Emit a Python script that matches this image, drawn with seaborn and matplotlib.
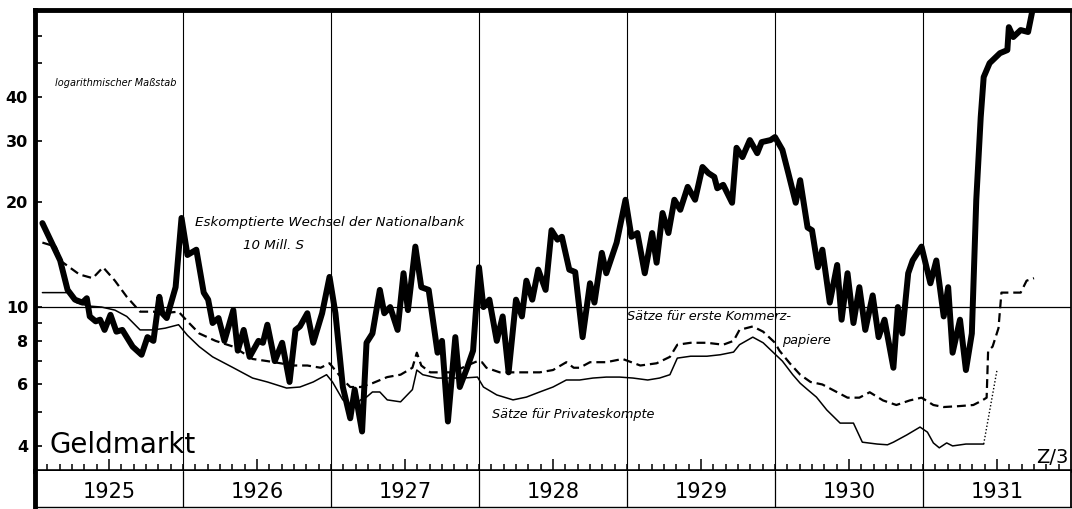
import numpy as np
import pandas as pd
import matplotlib
matplotlib.use("Agg")
import matplotlib.pyplot as plt
from matplotlib.ticker import NullFormatter
import seaborn as sns

# Eskomptierte Wechsel der Nationalbank (10 Mill. S)
esk_x = [1925.05, 1925.17, 1925.22, 1925.27, 1925.32, 1925.35, 1925.37, 1925.41, 1925.44, 1925.47, 1925.51,
         1925.55, 1925.59, 1925.66, 1925.72, 1925.76, 1925.80, 1925.84, 1925.86, 1925.89, 1925.95, 1925.99,
         1926.03, 1926.09, 1926.14, 1926.17, 1926.20, 1926.24, 1926.28, 1926.34, 1926.37, 1926.41, 1926.45,
         1926.51, 1926.54, 1926.57, 1926.62, 1926.67, 1926.72, 1926.76, 1926.79, 1926.84, 1926.88, 1926.94, 1926.99,
         1927.03, 1927.08, 1927.13, 1927.16, 1927.21, 1927.24, 1927.28, 1927.33, 1927.36, 1927.40, 1927.45,
         1927.49, 1927.52, 1927.57, 1927.61, 1927.66, 1927.72, 1927.75, 1927.79, 1927.84, 1927.87, 1927.92, 1927.96,
         1928.00, 1928.03, 1928.07, 1928.12, 1928.16, 1928.20, 1928.25, 1928.29, 1928.32, 1928.36, 1928.40, 1928.45,
         1928.49, 1928.53, 1928.56, 1928.61, 1928.65, 1928.70, 1928.75, 1928.78, 1928.83, 1928.86, 1928.93, 1928.99,
         1929.03, 1929.07, 1929.12, 1929.17, 1929.20, 1929.24, 1929.28, 1929.32, 1929.36, 1929.41, 1929.46,
         1929.51, 1929.55, 1929.59, 1929.61, 1929.65, 1929.71, 1929.74, 1929.78, 1929.83, 1929.88, 1929.91, 1929.97,
         1930.00, 1930.05, 1930.09, 1930.14, 1930.17, 1930.22, 1930.25, 1930.29, 1930.32, 1930.37, 1930.42,
         1930.45, 1930.49, 1930.53, 1930.57, 1930.61, 1930.66, 1930.70, 1930.74, 1930.80, 1930.83, 1930.86,
         1930.90, 1930.93, 1930.99,
         1931.05, 1931.09, 1931.14, 1931.17, 1931.20, 1931.25, 1931.29, 1931.33, 1931.36, 1931.39, 1931.41,
         1931.45, 1931.52, 1931.57, 1931.58, 1931.61, 1931.66, 1931.71, 1931.74, 1931.76]
esk_y = [17.4, 13.6, 11.2, 10.5, 10.3, 10.6, 9.4, 9.1, 9.2, 8.6, 9.5,
         8.5, 8.6, 7.7, 7.3, 8.2, 8.0, 10.7, 9.6, 9.3, 11.4, 18.0,
         14.1, 14.6, 11.0, 10.5, 9.0, 9.3, 8.0, 9.8, 7.5, 8.6, 7.2,
         8.0, 7.9, 8.9, 7.0, 7.9, 6.1, 8.6, 8.8, 9.6, 7.9, 9.6, 12.2,
         9.6, 5.9, 4.8, 5.8, 4.4, 7.9, 8.4, 11.2, 9.6, 10.0, 8.6,
         12.5, 9.8, 14.9, 11.4, 11.2, 7.4, 8.0, 4.7, 8.2, 5.9, 6.7, 7.5,
         13.0, 10.0, 10.5, 8.0, 9.4, 6.5, 10.5, 9.4, 11.9, 10.5, 12.8, 11.2,
         16.6, 15.6, 15.9, 12.8, 12.6, 8.2, 11.7, 10.3, 14.3, 12.5, 15.3, 20.3,
         15.9, 16.3, 12.5, 16.3, 13.4, 18.6, 16.3, 20.3, 19.0, 22.1, 20.3,
         25.2, 24.2, 23.6, 21.9, 22.4, 19.9, 28.6, 26.9, 30.1, 27.6, 29.7, 30.1,
         30.7, 28.2, 24.2, 19.9, 23.1, 16.9, 16.6, 13.0, 14.6, 10.3, 13.2,
         9.2, 12.5, 9.0, 11.4, 8.6, 10.8, 8.2, 9.2, 6.7, 10.0, 8.4,
         12.5, 13.6, 14.9,
         11.7, 13.6, 9.4, 11.4, 7.4, 9.2, 6.6, 8.4, 20.3, 35.0, 45.6,
         50.0, 53.4, 54.5, 63.4, 59.4, 62.2, 61.4, 71.0, 73.3]

# Saetze fuer erste Kommerzpapiere (dashed)
komm_x = [1925.05, 1925.14, 1925.18, 1925.30, 1925.39, 1925.46, 1925.54, 1925.62, 1925.71, 1925.80, 1925.86, 1925.97,
          1926.03, 1926.11, 1926.22, 1926.34, 1926.47, 1926.57, 1926.66, 1926.74, 1926.84, 1926.93, 1926.99,
          1927.08, 1927.13, 1927.20, 1927.28, 1927.38, 1927.47, 1927.55, 1927.58, 1927.61, 1927.67, 1927.74,
          1927.82, 1927.92, 1927.99,
          1928.02, 1928.05, 1928.14, 1928.23, 1928.32, 1928.41, 1928.50, 1928.59, 1928.64, 1928.68, 1928.75,
          1928.86, 1928.97,
          1929.09, 1929.20, 1929.29, 1929.34, 1929.43, 1929.54, 1929.65, 1929.72, 1929.76, 1929.85, 1929.92,
          1930.00, 1930.03, 1930.10, 1930.17, 1930.24, 1930.32, 1930.42, 1930.49, 1930.57, 1930.64, 1930.73,
          1930.82, 1930.91, 1930.99,
          1931.07, 1931.14, 1931.24, 1931.34, 1931.40, 1931.43, 1931.44, 1931.47, 1931.51, 1931.53, 1931.66,
          1931.70, 1931.75]
komm_y = [15.3, 14.9, 13.5, 12.4, 12.1, 13.0, 11.9, 10.7, 9.7, 9.7, 9.6, 9.7,
          9.1, 8.4, 8.0, 7.7, 7.1, 7.0, 6.9, 6.8, 6.8, 6.7, 6.9,
          6.2, 5.9, 5.9, 6.05, 6.3, 6.4, 6.7, 7.4, 6.8, 6.5, 6.5,
          6.5, 6.8, 7.0,
          6.95, 6.7, 6.5, 6.5, 6.5, 6.5, 6.6, 6.95, 6.7, 6.7, 6.95,
          6.95, 7.1,
          6.8, 6.9, 7.2, 7.8, 7.9, 7.9, 7.8, 8.0, 8.6, 8.8, 8.5,
          7.9, 7.5, 6.9, 6.4, 6.1, 6.0, 5.7, 5.5, 5.5, 5.7, 5.4,
          5.24, 5.4, 5.5,
          5.24, 5.17, 5.2, 5.24, 5.4, 5.5, 7.5, 7.7, 8.7, 11.0, 11.0,
          11.9, 12.1]

# Saetze fuer Privateskompte (thin solid), last stretch dotted
priv_x = [1925.05, 1925.22, 1925.28, 1925.36, 1925.45, 1925.54, 1925.62, 1925.71, 1925.80, 1925.88, 1925.97,
          1926.03, 1926.11, 1926.20, 1926.34, 1926.47, 1926.57, 1926.70, 1926.79, 1926.88, 1926.97,
          1927.01, 1927.08, 1927.15, 1927.20, 1927.24, 1927.28, 1927.33, 1927.38, 1927.47, 1927.55, 1927.58,
          1927.62, 1927.72, 1927.80, 1927.89, 1927.99,
          1928.03, 1928.12, 1928.23, 1928.32, 1928.41, 1928.50, 1928.59, 1928.68, 1928.77, 1928.86, 1928.95,
          1929.04, 1929.14, 1929.22, 1929.29, 1929.34, 1929.43, 1929.54, 1929.63, 1929.72, 1929.76, 1929.85,
          1929.92, 1929.99,
          1930.05, 1930.12, 1930.17, 1930.22, 1930.28, 1930.35, 1930.44, 1930.53, 1930.59, 1930.69, 1930.76,
          1930.80, 1930.89, 1930.98,
          1931.03, 1931.07, 1931.11, 1931.16, 1931.20, 1931.29, 1931.41]
priv_y = [11.0, 11.0, 10.3, 10.07, 10.0, 9.8, 9.4, 8.6, 8.6, 8.7, 8.9,
          8.3, 7.7, 7.2, 6.7, 6.26, 6.1, 5.86, 5.9, 6.1, 6.4,
          6.1, 5.42, 5.17, 5.42, 5.52, 5.71, 5.71, 5.42, 5.35, 5.8, 6.6,
          6.4, 6.26, 6.26, 6.26, 6.3,
          5.9, 5.6, 5.42, 5.52, 5.71, 5.9, 6.18, 6.18, 6.26, 6.3, 6.3,
          6.26, 6.18, 6.26, 6.4, 7.14, 7.23, 7.23, 7.3, 7.43, 7.8, 8.2,
          7.9, 7.4,
          7.0, 6.4, 6.05, 5.8, 5.52, 5.07, 4.65, 4.65, 4.1, 4.05, 4.03,
          4.1, 4.3, 4.53,
          4.38, 4.08, 3.95, 4.08, 4.0, 4.05, 4.05]
priv_dot_x = [1931.41, 1931.50]
priv_dot_y = [4.05, 6.6]

years = [1925, 1926, 1927, 1928, 1929, 1930, 1931]
ytick_vals = [4, 6, 8, 10, 20, 30, 40]
ytick_minor = [5, 7, 9, 50, 60]

sns.set_style("white")
plt.rcParams['font.family'] = ['DejaVu Sans']
plt.rcParams['text.color'] = 'black'
plt.rcParams['xtick.color'] = 'black'
plt.rcParams['ytick.color'] = 'black'
plt.rcParams['axes.edgecolor'] = 'black'

W, H = 1072, 509
fig = plt.figure(figsize=(W / 100, H / 100), dpi=100)
ax = fig.add_axes([35 / W, 38 / H, 1036 / W, 461 / H])
band = fig.add_axes([35 / W, 2 / H, 1036 / W, 36 / H])

# the three series
sns.lineplot(x=esk_x, y=esk_y, ax=ax, color='black', linewidth=4.3,
             estimator=None, sort=False, solid_joinstyle='round', solid_capstyle='round')
sns.lineplot(x=komm_x, y=komm_y, ax=ax, color='black', linewidth=1.6,
             estimator=None, sort=False, linestyle=(0, (4, 2.2)))
sns.lineplot(x=priv_x, y=priv_y, ax=ax, color='black', linewidth=1.1,
             estimator=None, sort=False)
sns.lineplot(x=priv_dot_x, y=priv_dot_y, ax=ax, color='black', linewidth=1.0,
             estimator=None, sort=False, linestyle=(0, (1, 1.5)))

ax.set_yscale('log')
ax.set_xlim(1925, 1932)
ax.set_ylim(3.39, 71)

# reference lines: 10 and the year boundaries
ax.axhline(10, color='black', lw=0.9, zorder=0)
for b in years[1:]:
    ax.axvline(b, color='black', lw=0.8, zorder=0)
    band.axvline(b, color='black', lw=0.9)

ax.set_yticks(ytick_vals)
ax.set_yticklabels([str(v) for v in ytick_vals])
ax.set_yticks(ytick_minor, minor=True)
ax.yaxis.set_minor_formatter(NullFormatter())
ax.tick_params(axis='y', which='both', direction='in', length=5, width=1.2, pad=5,
               labelsize=11.5, left=True, colors='black')
for t in ax.get_yticklabels():
    t.set_fontweight('bold')

ax.set_xticks([y + 0.5 for y in years])
ax.set_xticks(np.arange(1925, 1932, 1 / 12), minor=True)
ax.xaxis.set_major_formatter(NullFormatter())
ax.tick_params(axis='x', which='major', direction='in', length=9, width=1.1, bottom=True)
ax.tick_params(axis='x', which='minor', direction='in', length=5, width=1.1, bottom=True)
ax.set_xlabel('')
ax.set_ylabel('')

for side, lw in [('left', 3.5), ('top', 3.5), ('right', 1.3), ('bottom', 2.6)]:
    ax.spines[side].set_visible(True)
    ax.spines[side].set_linewidth(lw)
    ax.spines[side].set_color('black')

# year band below
band.set_xlim(1925, 1932)
band.set_ylim(0, 1)
band.set_xticks([])
band.set_yticks([])
band.spines['top'].set_visible(False)
band.spines['left'].set_linewidth(3.5)
band.spines['bottom'].set_linewidth(1.0)
band.spines['right'].set_linewidth(1.3)
for y in years:
    band.text(y + 0.5, 0.42, str(y), ha='center', va='center', fontsize=15, color='black')

# annotations
ax.text(1925.135, 43.9, 'logarithmischer Maßstab', fontsize=7, style='italic', va='center')
ax.text(1926.99, 17.5, 'Eskomptierte Wechsel der Nationalbank', fontsize=9.6, style='italic',
        ha='center', va='center')
ax.text(1926.61, 15.0, '10 Mill. S', fontsize=9.6, style='italic', ha='center', va='center')
ax.text(1929.0, 9.4, 'Sätze für erste Kommerz-', fontsize=9.3, style='italic', va='center')
ax.text(1930.05, 8.0, 'papiere', fontsize=9.3, style='italic', va='center')
ax.text(1928.09, 4.91, 'Sätze für Privateskompte', fontsize=9.3, style='italic', va='center')
ax.text(1925.10, 3.82, 'Geldmarkt', fontsize=20, va='baseline')
ax.text(1931.98, 3.57, 'Z/3', fontsize=14, ha='right', va='baseline')

fig.savefig('out.png', dpi=100)
